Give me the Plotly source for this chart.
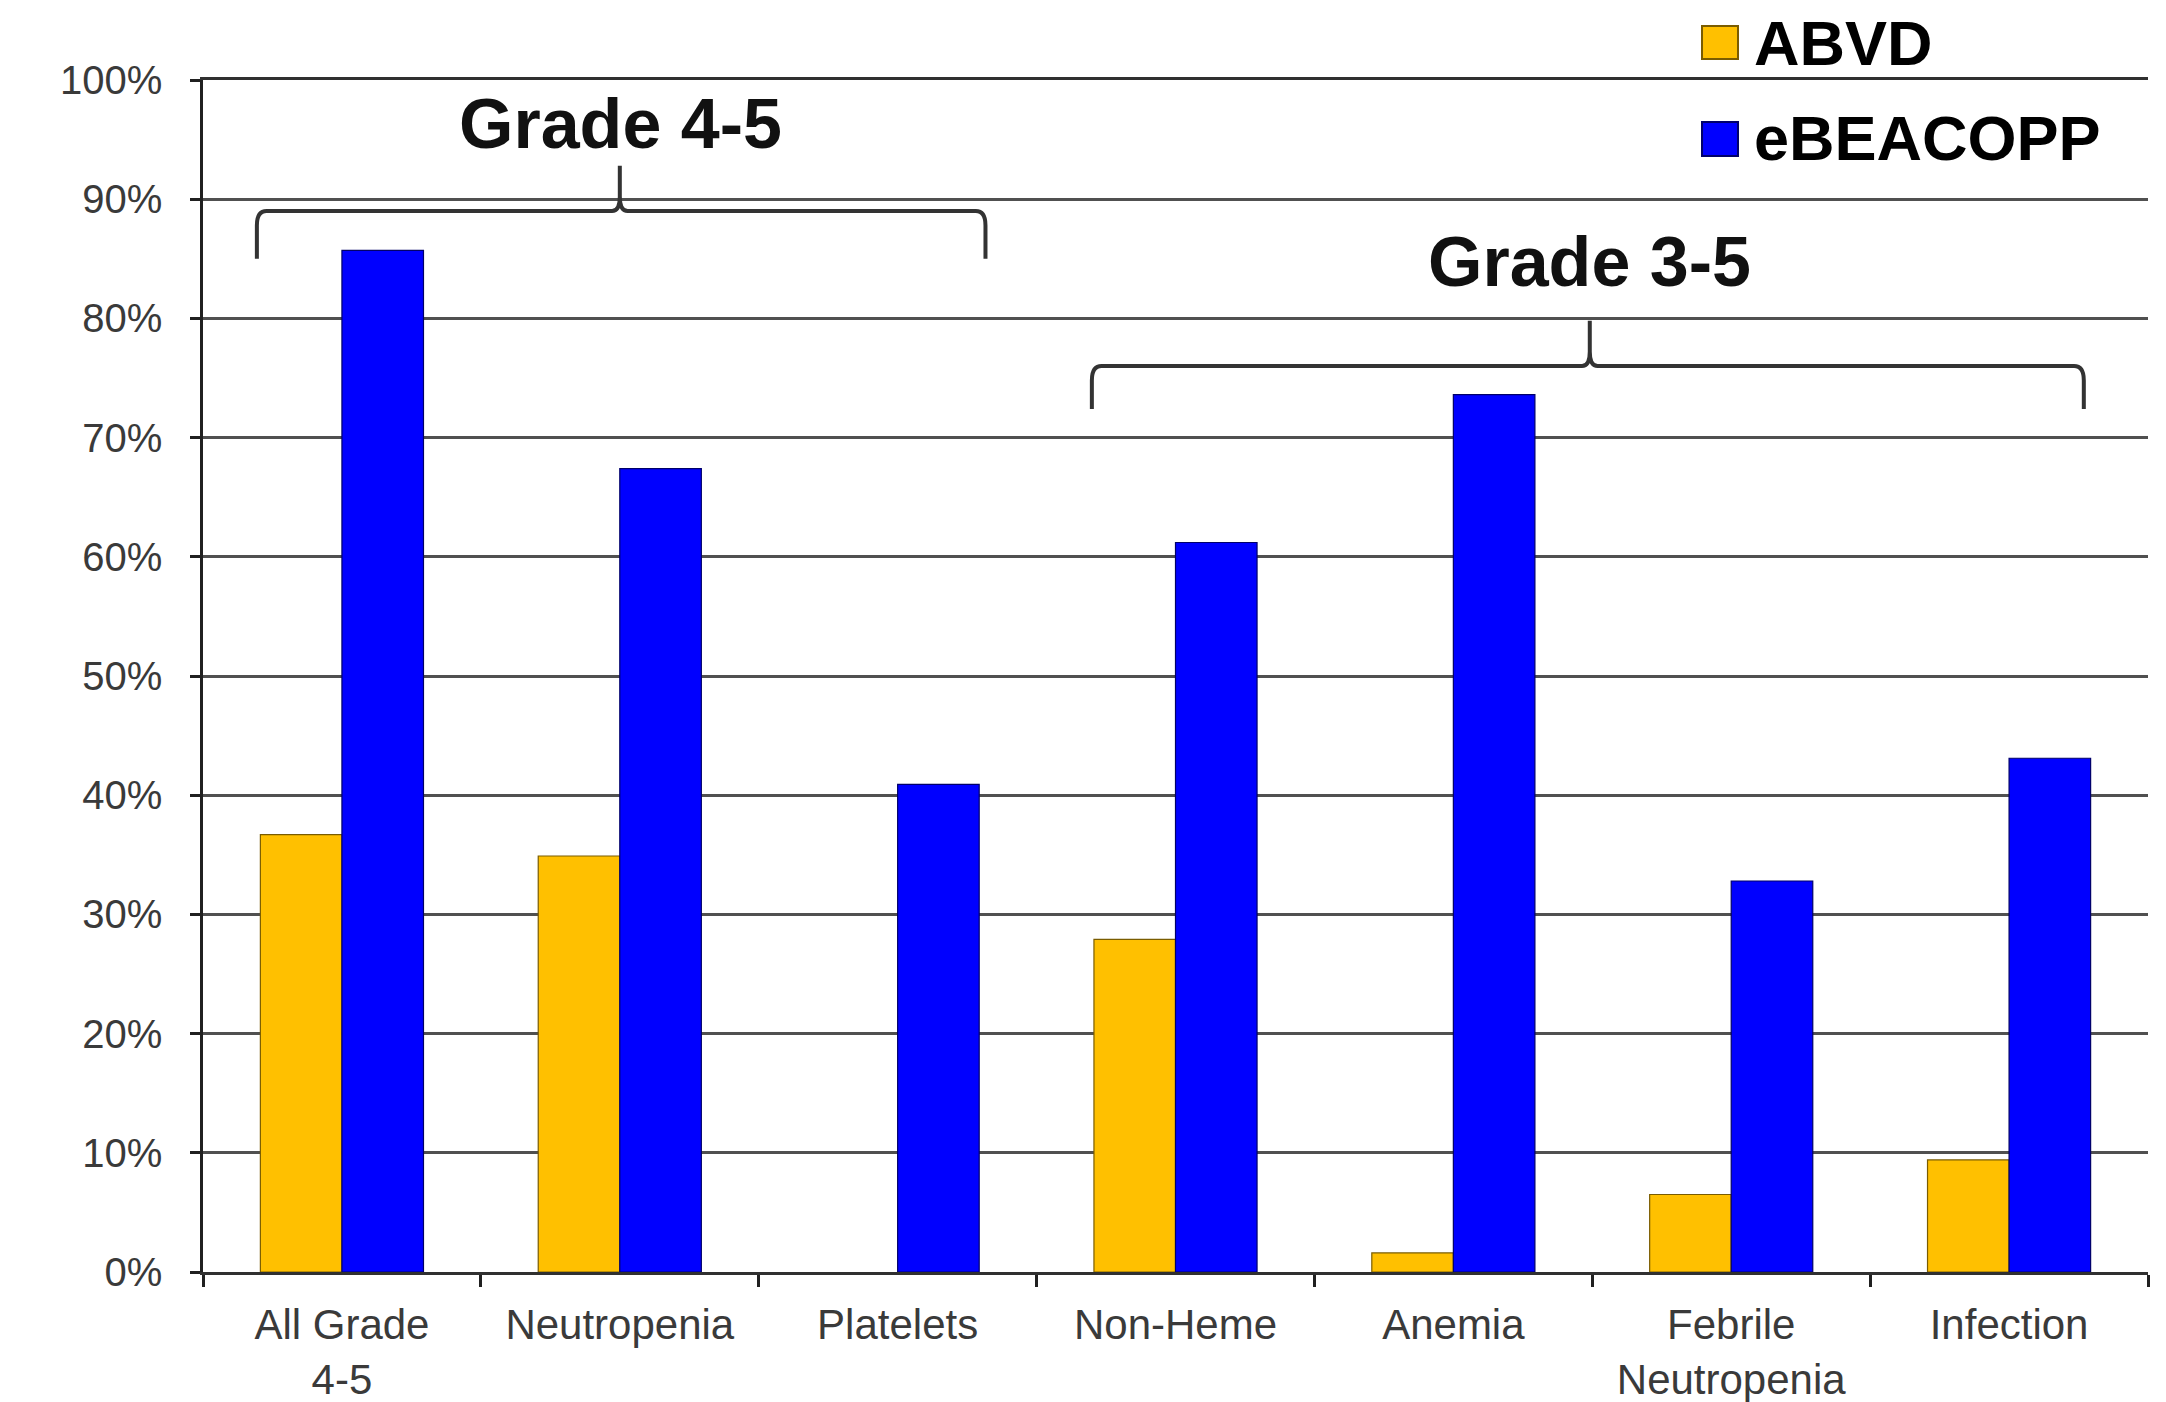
import plotly.graph_objects as go

categories = ["All Grade<br>4-5", "Neutropenia", "Platelets", "Non-Heme", "Anemia", "Febrile<br>Neutropenia", "Infection"]
series_names = ["ABVD", "eBEACOPP"]
abvd = [36.7, 34.9, 0, 27.9, 1.6, 6.5, 9.4]
ebeacopp = [85.7, 67.4, 40.9, 61.2, 73.6, 32.8, 43.1]
y_ticks = list(range(0, 101, 10))
y_tick_labels = [f"{v}%" for v in y_ticks]

colors = ["#FFC000", "#0000FF"]
edge_colors = ["#7A5C00", "#00006A"]

fig = go.Figure()
for name, vals, col, ec in zip(series_names, [abvd, ebeacopp], colors, edge_colors):
    widths = [1.2 if v > 0 else 0 for v in vals]
    fig.add_trace(go.Bar(x=categories, y=vals, name=name, marker=dict(color=col, line=dict(color=ec, width=widths)),
                         showlegend=False))

font_family = "Liberation Sans, Arial, sans-serif"

fig.update_layout(
    width=2166, height=1402,
    margin=dict(l=203, r=18, t=80, b=130),
    paper_bgcolor="white", plot_bgcolor="white",
    barmode="group", bargap=0.413, bargroupgap=0,
    font=dict(family=font_family, color="#3a3a3a"),
)
fig.update_xaxes(
    type="category", showline=True, linecolor="#303030", linewidth=2.5, mirror=True,
    ticks="outside", tickson="boundaries", ticklen=12, tickwidth=2.5, tickcolor="#202020",
    tickfont=dict(size=42, color="#3a3a3a", family=font_family), showgrid=False,
    range=[-0.5, 6.5], ticklabelstandoff=14, automargin=False,
)
fig.update_yaxes(
    range=[0, 100], tickmode="array", tickvals=y_ticks, ticktext=y_tick_labels,
    showline=True, linecolor="#202020", linewidth=2.5,
    ticks="outside", ticklen=10, tickwidth=2.5, tickcolor="#202020",
    showgrid=True, gridcolor="#505050", gridwidth=3, zeroline=False,
    tickfont=dict(size=40, color="#3a3a3a", family=font_family),
    ticklabelstandoff=20, automargin=False,
)

# Manual legend (large squares as in the reference)
leg_sq_x = (0.7707, 0.7892)
leg_sq_y = [(1.0176, 1.0453), (0.9362, 0.9648)]
leg_txt_y = [1.031, 0.9513]
for name, col, ec, (y0, y1), ty in zip(series_names, colors, edge_colors, leg_sq_y, leg_txt_y):
    fig.add_shape(type="rect", xref="paper", yref="paper", x0=leg_sq_x[0], x1=leg_sq_x[1], y0=y0, y1=y1,
                  fillcolor=col, line=dict(color=ec, width=2))
    fig.add_annotation(xref="paper", yref="paper", x=0.7964, y=ty, text=f"<b>{name}</b>", showarrow=False,
                       xanchor="left", yanchor="middle", font=dict(size=63, color="black", family=font_family))

# Brackets
def bracket(x0, x1, xt, yh, yb, yt, rx=0.005, ry=0.012, tx=0.004):
    return (f"M {x0},{yb} L {x0},{yh-ry} Q {x0},{yh} {x0+rx},{yh} L {xt-tx},{yh} Q {xt},{yh} {xt},{yh+ry} L {xt},{yt} "
            f"M {xt},{yh+ry} Q {xt},{yh} {xt+tx},{yh} L {x1-rx},{yh} Q {x1},{yh} {x1},{yh-ry} L {x1},{yb}")

fig.add_shape(type="path", xref="paper", yref="paper", path=bracket(0.0277, 0.4023, 0.2143, 0.89, 0.85, 0.928),
              line=dict(color="#333333", width=4))
fig.add_shape(type="path", xref="paper", yref="paper", path=bracket(0.457, 0.967, 0.713, 0.76, 0.724, 0.798),
              line=dict(color="#333333", width=4))

fig.add_annotation(xref="paper", yref="paper", x=0.2144, y=0.963, text="<b>Grade 4-5</b>", showarrow=False,
                   xanchor="center", yanchor="middle", font=dict(size=70, color="#111111", family=font_family))
fig.add_annotation(xref="paper", yref="paper", x=0.7126, y=0.847, text="<b>Grade 3-5</b>", showarrow=False,
                   xanchor="center", yanchor="middle", font=dict(size=70, color="#111111", family=font_family))

fig.write_html("out.html")
